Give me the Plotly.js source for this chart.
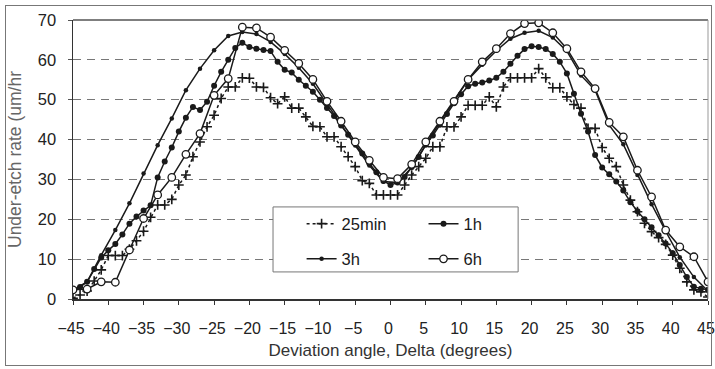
<!DOCTYPE html>
<html>
<head>
<meta charset="utf-8">
<script src="https://cdn.plot.ly/plotly-3.0.1.min.js"></script>
<style>
  html, body { margin: 0; padding: 0; background: #fff; }
  #wrap { position: relative; width: 715px; height: 369px; overflow: hidden; }
  #chart { width: 715px; height: 369px; }
  #frame { position: absolute; left: 5px; top: 5px; width: 705px; height: 359px;
           border: 1.5px solid #777; pointer-events: none; }
</style>
</head>
<body>
<div id="wrap"><div id="chart"></div><div id="frame"></div></div>
<script>
// ---- data ----
const xFine = [];   // every degree, -45..45
for (let d = -45; d <= 45; d += 1) xFine.push(d);
const xCoarse = []; // every 2 degrees, -45..45
for (let d = -45; d <= 45; d += 2) xCoarse.push(d);

const seriesNames = ["25min", "1h", "3h", "6h"];

const rate25min = [
  0.2, 1.0, 2.0, 4.5, 7.3, 10.9, 10.9, 10.9, 12.5, 14.6,
  17.0, 20.5, 23.6, 23.6, 25.0, 28.6, 31.1, 35.7, 39.4, 43.2,
  46.1, 50.3, 53.2, 53.2, 55.5, 55.4, 53.2, 53.1, 50.5, 49.0,
  50.7, 47.9, 47.9, 45.7, 43.3, 43.2, 40.7, 40.7, 38.2, 35.7,
  33.2, 29.7, 29.0, 26.1, 26.1, 26.1, 26.1, 28.6, 31.1, 33.2,
  35.3, 38.2, 38.2, 43.2, 43.2, 45.7, 48.6, 48.6, 48.6, 50.7,
  48.2, 53.2, 55.5, 55.5, 55.5, 55.5, 57.8, 55.5, 53.0, 53.0,
  50.7, 48.8, 47.9, 42.8, 42.8, 38.0, 35.3, 33.2, 28.6, 24.8,
  21.9, 19.0, 16.9, 15.4, 13.7, 11.0, 7.7, 4.3, 2.3, 1.8, 0.5
];
const rate1h = [
  2.3, 3.0, 4.3, 7.5, 10.4, 12.2, 13.8, 16.2, 18.9, 20.7,
  22.2, 23.5, 30.5, 34.5, 38.0, 42.0, 45.5, 48.2, 47.4, 49.5,
  53.5, 57.0, 60.0, 63.0, 64.3, 63.2, 62.8, 62.5, 62.2, 59.5,
  57.5, 56.8, 55.0, 53.5, 52.0, 50.0, 47.9, 45.9, 43.5, 41.2,
  39.0, 36.5, 34.0, 31.8, 29.6, 28.6, 29.2, 30.6, 33.1, 35.6,
  38.7, 41.0, 43.7, 46.4, 49.1, 51.4, 53.4, 54.0, 54.3, 54.8,
  55.5, 57.0, 59.0, 61.0, 62.7, 63.4, 63.2, 62.7, 61.5, 59.5,
  56.6, 51.5, 46.5, 42.0, 36.1, 33.0, 31.3, 29.5, 27.2, 24.3,
  22.0, 20.0, 18.0, 16.0, 13.9, 11.5, 8.5, 5.5, 3.1, 2.6, 2.3
];
const rate3h = [
  2.3, 4.3, 11.0, 17.3, 24.0, 31.5, 38.6, 45.3, 52.4, 57.8,
  62.4, 66.0, 67.0, 66.5, 64.5, 61.5, 58.0, 54.0, 49.0, 43.8,
  38.5, 33.5, 29.5, 29.2, 33.0, 38.8, 44.3, 49.6, 55.0, 58.8,
  62.3, 65.3, 66.8, 67.3, 65.6, 62.2, 56.1, 52.4, 43.6, 38.8,
  31.1, 23.8, 17.0, 10.5, 5.5, 2.0
];
const rate6h = [
  2.3, 2.5, 4.3, 4.2, 12.3, 20.2, 26.1, 30.5, 36.3, 41.5,
  51.1, 55.3, 68.2, 68.0, 65.7, 62.4, 59.1, 55.1, 49.6, 44.6,
  39.4, 34.8, 30.5, 30.2, 33.8, 39.4, 44.6, 49.6, 55.1, 59.5,
  62.8, 66.6, 69.1, 69.3, 66.8, 62.8, 57.0, 52.8, 44.3, 40.7,
  32.3, 25.6, 17.3, 13.1, 10.6, 4.3
];
const xTickVals = [-45,-40,-35,-30,-25,-20,-15,-10,-5,0,5,10,15,20,25,30,35,40,45];
const yTickVals = [0,10,20,30,40,50,60,70];

const ink = "#1a1a1a";
const traces = [
  { x: xFine, y: rate25min, name: seriesNames[0], legend: "legend", mode: "lines+markers",
    line: { color: ink, width: 1.5, dash: "dot" },
    marker: { symbol: "cross-thin", size: 7, line: { color: ink, width: 1.6 } } },
  { x: xFine, y: rate1h, name: seriesNames[1], legend: "legend2", mode: "lines+markers",
    line: { color: ink, width: 1.5 },
    marker: { symbol: "circle", size: 6, color: ink } },
  { x: xCoarse, y: rate3h, name: seriesNames[2], legend: "legend3", mode: "lines+markers",
    line: { color: ink, width: 1.5 },
    marker: { symbol: "circle", size: 4.5, color: ink } },
  { x: xCoarse, y: rate6h, name: seriesNames[3], legend: "legend4", mode: "lines+markers",
    line: { color: ink, width: 1.5 },
    marker: { symbol: "circle", size: 7.5, color: "#fff", line: { color: ink, width: 1.3 } } }
];

const legFont = { family: "Liberation Sans, Arial, sans-serif", size: 16.5, color: "#1a1a1a" };
function leg(x, y) {
  return { x: x, y: y, xanchor: "left", yanchor: "middle", bgcolor: "rgba(0,0,0,0)",
           borderwidth: 0, font: legFont, orientation: "v" };
}

const layout = {
  width: 715, height: 369,
  margin: { l: 73, r: 7, t: 20, b: 70 },
  paper_bgcolor: "#fff", plot_bgcolor: "#fff",
  font: { family: "Liberation Sans, Arial, sans-serif", size: 16, color: "#222" },
  showlegend: true,
  legend: leg(0.36, 0.269),
  legend2: leg(0.552, 0.269),
  legend3: leg(0.36, 0.143),
  legend4: leg(0.552, 0.143),
  xaxis: {
    range: [-45, 45], tickmode: "array", tickvals: xTickVals,
    ticks: "outside", ticklen: 4, tickcolor: "#333", ticklabelstandoff: 10,
    ticklabelshift: -2, ticklabeloverflow: "allow",
    showline: true, linecolor: "#333", linewidth: 2, mirror: false,
    showgrid: false, zeroline: false,
    tickfont: { size: 16, color: "#222" },
    title: { text: "Deviation angle, Delta (degrees)", font: { size: 17, color: "#333" }, standoff: 8 }
  },
  yaxis: {
    range: [0, 70], tickmode: "array", tickvals: yTickVals,
    ticks: "outside", ticklen: 4, tickcolor: "#555", ticklabelstandoff: 8,
    showline: true, linecolor: "#333", linewidth: 1.5, mirror: false,
    showgrid: true, gridcolor: "#777", gridwidth: 1, griddash: "8px,6px",
    zeroline: false,
    tickfont: { size: 16.5, color: "#222" },
    title: { text: "Under-etch rate (um/hr", font: { size: 17.5, color: "#666" }, standoff: 11 }
  },
  shapes: [
    // top and right frame of the plot area
    { type: "line", xref: "paper", yref: "paper", x0: 0, x1: 1, y0: 1, y1: 1,
      line: { color: "#555", width: 1.5 } },
    { type: "line", xref: "paper", yref: "paper", x0: 1, x1: 1, y0: 0, y1: 1,
      line: { color: "#999", width: 1 } },
    // legend box
    { type: "rect", xref: "paper", yref: "paper", x0: 0.315, x1: 0.701, y0: 0.097, y1: 0.330,
      fillcolor: "#fff", line: { color: "#777", width: 1 }, layer: "above" }
  ]
};

Plotly.newPlot("chart", traces, layout, { staticPlot: true, displayModeBar: false });
</script>
</body>
</html>
